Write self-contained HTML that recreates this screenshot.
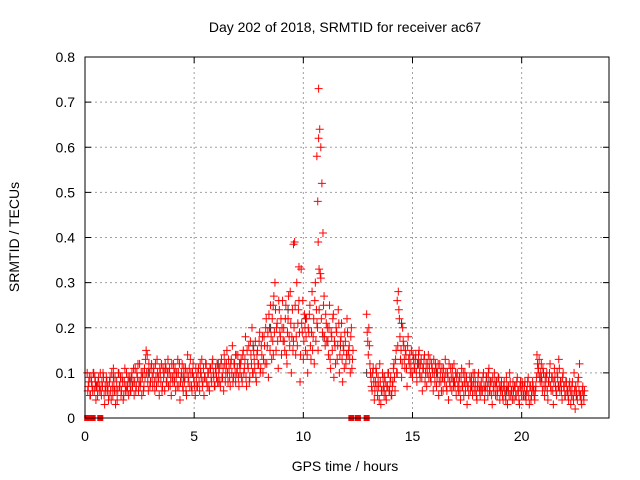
<!DOCTYPE html>
<html><head><meta charset="utf-8"><style>
body{margin:0;background:#fff}
svg{display:block;font-family:"Liberation Sans",sans-serif;font-size:14px}
</style></head><body>
<svg id="chart" width="640" height="480"></svg>
<script>
const hourStarts=[0,1,2,3,4,5,6,7,8,9,10,11,12,13,14,15,16,17,18,19,20,21,22];
const redByHour=[
[.1,.07,.09,.05,.08,.06,.1,.09,.04,.07,.08,.06,.1,.05,.07,.09,.03,.06,.08,.07],
[.05,.09,.04,.07,.11,.06,.03,.08,.06,.1,.07,.05,.09,.04,.08,.06,.1,.07,.05,.09],
[.06,.1,.08,.05,.11,.07,.09,.06,.12,.08,.05,.1,.07,.09,.15,.14,.06,.1,.08,.12],
[.07,.11,.06,.09,.13,.08,.05,.1,.12,.07,.09,.06,.11,.08,.13,.1,.07,.05,.09,.12],
[.08,.06,.1,.13,.07,.04,.09,.12,.06,.08,.11,.05,.14,.09,.07,.1,.06,.12,.08,.05],
[.09,.07,.11,.06,.1,.13,.08,.05,.09,.12,.07,.1,.06,.11,.08,.13,.09,.07,.1,.12],
[.08,.11,.07,.13,.09,.06,.12,.1,.15,.08,.11,.07,.13,.16,.09,.12,.08,.1,.14,.07],
[.1,.13,.08,.15,.11,.18,.07,.12,.16,.09,.14,.2,.1,.13,.17,.08,.15,.12,.19,.11],
[.14,.1,.18,.12,.22,.16,.09,.2,.25,.13,.17,.27,.3,.15,.21,.11,.24,.18,.14,.26],
[.2,.15,.25,.12,.22,.18,.28,.1,.24,.17,.39,.14,.3,.21,.26,.08,.33,.19,.13,.23],
[.15,.22,.1,.19,.25,.13,.28,.18,.12,.3,.24,.2,.73,.64,.6,.52,.41,.27,.16,.21],
[.2,.14,.25,.11,.18,.22,.09,.16,.2,.13,.24,.1,.17,.21,.08,.15,.19,.12,.22,.14],
[.16,.1,.2,.13,null,null,null,null,null,null,null,null,null,null,null,null,.23,.17,.2,.12],
[.09,.06,.11,.04,.08,.1,.05,.07,.12,.03,.06,.09,.05,.08,.04,.07,.1,.06,.09,.05],
[.08,.12,.06,.15,.1,.28,.22,.13,.09,.2,.16,.11,.14,.07,.18,.12,.1,.15,.09,.13],
[.11,.14,.08,.12,.15,.09,.13,.06,.11,.14,.1,.07,.12,.09,.13,.08,.11,.06,.1,.12],
[.07,.1,.05,.12,.08,.11,.06,.09,.13,.07,.1,.04,.08,.11,.06,.09,.12,.07,.05,.1],
[.06,.09,.04,.11,.07,.05,.1,.08,.03,.07,.12,.06,.09,.05,.08,.1,.06,.04,.09,.07],
[.05,.08,.06,.1,.04,.07,.09,.05,.11,.06,.08,.03,.07,.1,.05,.08,.06,.09,.04,.07],
[.06,.04,.08,.05,.09,.03,.07,.1,.05,.06,.08,.04,.07,.05,.09,.06,.03,.08,.05,.07],
[.05,.08,.04,.06,.09,.03,.07,.05,.08,.06,.04,.07,.14,.1,.13,.08,.12,.06,.1,.05],
[.07,.1,.04,.08,.12,.06,.09,.03,.11,.07,.05,.09,.13,.06,.08,.04,.1,.07,.05,.08],
[.06,.04,.08,.03,.07,.05,.1,.02,.06,.04,.09,.12,.05,.03,.07,.04]
];
const redByHour2=[
[.06,.08,.05,.09,.07,.1,.06,.08,.07,.05,.09,.07,.06,.08,.1,.05,.07,.09,.06,.04],
[.08,.06,.1,.05,.07,.09,.06,.04,.1,.07,.09,.06,.08,.05,.11,.07,.06,.09,.08,.06],
[.09,.07,.11,.08,.06,.1,.12,.08,.07,.1,.09,.06,.11,.13,.1,.08,.12,.07,.11,.09],
[.1,.08,.12,.07,.1,.09,.11,.08,.06,.11,.1,.12,.08,.1,.07,.11,.09,.12,.08,.1],
[.11,.09,.07,.1,.12,.08,.1,.07,.11,.09,.06,.1,.08,.11,.13,.07,.1,.09,.07,.11],
[.07,.1,.08,.12,.09,.07,.11,.09,.12,.08,.1,.07,.11,.09,.12,.1,.07,.11,.09,.08],
[.1,.08,.12,.09,.11,.14,.08,.12,.1,.13,.09,.12,.1,.08,.12,.1,.14,.11,.09,.12],
[.12,.09,.14,.1,.13,.09,.15,.11,.08,.17,.12,.1,.15,.11,.09,.14,.12,.17,.1,.16],
[.18,.13,.16,.2,.12,.19,.23,.15,.18,.22,.14,.19,.24,.2,.17,.26,.19,.22,.2,.17],
[.17,.22,.14,.19,.27,.16,.21,.18,.15,.2,.25,.18,.16,.24,.19,.14,.21,.26,.17,.2],
[.18,.14,.2,.23,.16,.19,.15,.22,.26,.17,.21,.15,.24,.32,.22,.19,.25,.18,.23,.17],
[.17,.2,.13,.19,.15,.23,.17,.12,.19,.16,.21,.14,.18,.13,.16,.11,.17,.14,.19,.15],
[.13,.18,.11,.15,null,null,null,null,null,null,null,null,null,null,null,null,.19,.14,.16,.1],
[.07,.1,.08,.06,.11,.07,.09,.04,.08,.06,.1,.07,.09,.05,.07,.1,.06,.08,.05,.07],
[.11,.09,.13,.1,.16,.24,.18,.15,.12,.17,.13,.15,.11,.16,.13,.14,.12,.1,.14,.11],
[.13,.1,.12,.14,.1,.12,.09,.11,.13,.08,.12,.1,.14,.11,.09,.12,.1,.13,.08,.11],
[.09,.12,.08,.1,.06,.09,.11,.08,.1,.06,.09,.12,.07,.09,.11,.07,.08,.1,.09,.07],
[.08,.06,.09,.07,.1,.08,.06,.09,.07,.05,.09,.08,.07,.1,.06,.08,.05,.07,.1,.06],
[.07,.06,.09,.07,.06,.09,.07,.1,.06,.08,.05,.09,.06,.08,.07,.05,.09,.07,.06,.08],
[.05,.07,.06,.04,.07,.06,.05,.08,.06,.04,.06,.07,.05,.08,.06,.04,.07,.06,.08,.05],
[.07,.05,.06,.08,.05,.07,.04,.06,.07,.05,.06,.09,.12,.11,.09,.1,.08,.11,.07,.09],
[.09,.06,.08,.1,.07,.09,.06,.08,.09,.06,.1,.07,.11,.08,.06,.09,.07,.05,.08,.06],
[.05,.07,.06,.05,.08,.04,.06,.07,.05,.08,.06,.05,.04,.06,.05,.06]
];
const spikeHours=[10.62,10.66,10.68,10.7,9.55,9.8,10.72,10.8,14.3,8.62];
const spikeValues=[.58,.48,.39,.62,.385,.335,.33,.31,.26,.25];
const blackHours=[0.5,1.3,2.1,2.9,3.7,4.5,5.3,6.1,6.9,7.7,8.5,9.3,10.1,10.9,11.7,12.9,13.7,14.5,15.3,16.1,16.9,17.7,18.5,19.3,20.1,20.9,21.7,22.5];
const blackValues=[.07,.09,.08,.1,.11,.09,.1,.12,.14,.16,.2,.24,.22,.18,.16,.1,.06,.21,.12,.1,.08,.07,.08,.06,.05,.09,.07,.05];
const zeroHours=[0.1,0.35,0.7,12.2,12.5,12.9];
const xTicks=[0,5,10,15,20];
const yTicks=[0,0.1,0.2,0.3,0.4,0.5,0.6,0.7,0.8];

const L=85,R=609,T=57,B=418,X0=0,X1=24,Y0=0,Y1=0.8;
const sx=v=>L+(v-X0)/(X1-X0)*(R-L);
const sy=v=>B-(v-Y0)/(Y1-Y0)*(B-T);
const svg=document.getElementById('chart');
const NS='http://www.w3.org/2000/svg';
function mk(tag,attrs,parent){const e=document.createElementNS(NS,tag);for(const k in attrs)e.setAttribute(k,attrs[k]);(parent||svg).appendChild(e);return e;}

const grid=mk('g',{});


xTicks.forEach(t=>{if(t>0)mk('line',{x1:sx(t),x2:sx(t),y1:T,y2:B,stroke:'#a0a0a0','stroke-dasharray':'2,3'},grid);});
yTicks.forEach(t=>{if(t>0&&t<0.8)mk('line',{x1:L,x2:R,y1:sy(t),y2:sy(t),stroke:'#a0a0a0','stroke-dasharray':'2,3'},grid);});

const axes=mk('g',{});


xTicks.forEach(t=>{
  mk('line',{x1:sx(t),x2:sx(t),y1:B,y2:B-6,stroke:'#000'},axes);
  mk('line',{x1:sx(t),x2:sx(t),y1:T,y2:T+6,stroke:'#000'},axes);
  const tx=mk('text',{x:sx(t),y:B+23,'text-anchor':'middle'},axes);
  
  
  tx.textContent=String(t);
});
yTicks.forEach(t=>{
  mk('line',{x1:L,x2:L+6,y1:sy(t),y2:sy(t),stroke:'#000'},axes);
  mk('line',{x1:R,x2:R-6,y1:sy(t),y2:sy(t),stroke:'#000'},axes);
  const tx=mk('text',{x:L-10,y:sy(t)+5,'text-anchor':'end'},axes);
  
  
  tx.textContent=t===0?'0':t.toFixed(1);
});

function plus(g,x,y,color){mk('path',{d:`M${x-4},${y}h8M${x},${y-4}v8`,stroke:color,'stroke-width':1,fill:'none'},g);}
const blk=mk('g',{});


blackHours.forEach((h,i)=>plus(blk,sx(h),sy(blackValues[i]),'#333'));
const red=mk('g',{});


redByHour.forEach((arr,hi)=>arr.forEach((v,k)=>{if(v!==null)plus(red,sx(hourStarts[hi]+0.1+k*0.05),sy(v),'#f00');}));
redByHour2.forEach((arr,hi)=>arr.forEach((v,k)=>{if(v!==null)plus(red,sx(hourStarts[hi]+0.125+k*0.05),sy(v),'#f00');}));
spikeHours.forEach((h,i)=>plus(red,sx(h),sy(spikeValues[i]),'#f00'));
const zr=mk('g',{});


zeroHours.forEach(h=>mk('rect',{x:sx(h)-3,y:sy(0)-3,width:6,height:6,fill:'#f00'},zr));

const fr=mk('rect',{x:L,y:T,width:R-L,height:B-T,fill:'none',stroke:'#000'});



const title=mk('text',{x:345,y:32,'text-anchor':'middle'});


title.textContent='Day 202 of 2018, SRMTID for receiver ac67';
const xt=mk('text',{x:345,y:471,'text-anchor':'middle'});


xt.textContent='GPS time / hours';
const yt=mk('text',{x:0,y:0,'text-anchor':'middle',transform:'translate(19,237) rotate(-90)'});


yt.textContent='SRMTID / TECUs';
</script>
</body></html>
